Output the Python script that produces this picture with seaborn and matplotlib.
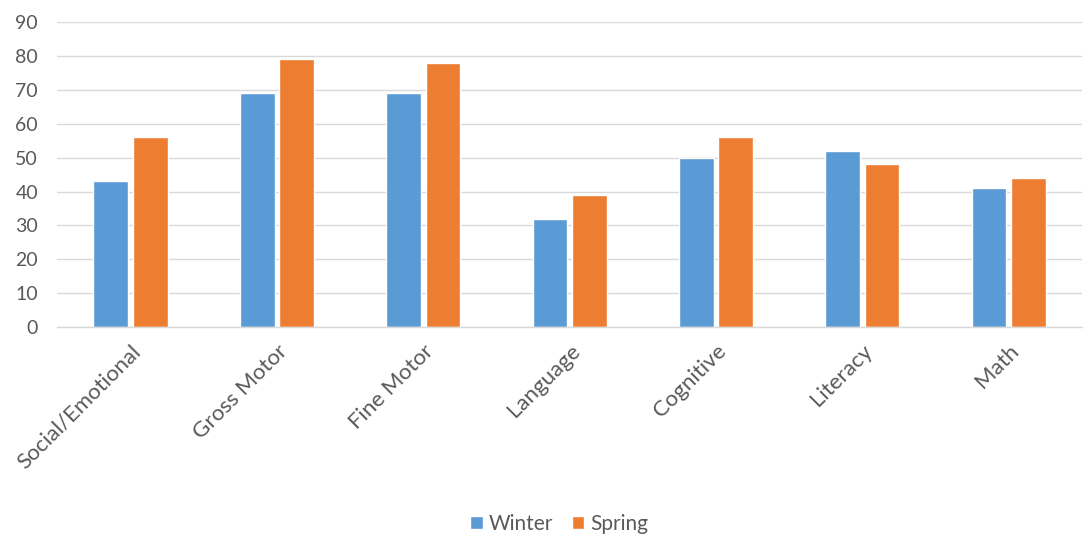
import matplotlib
matplotlib.use("Agg")
import matplotlib.pyplot as plt
import seaborn as sns
import pandas as pd

categories = ["Social/Emotional", "Gross Motor", "Fine Motor", "Language", "Cognitive", "Literacy", "Math"]
winter = [43, 69, 69, 32, 50, 52, 41]
spring = [56, 79, 78, 39, 56, 48, 44]
series_names = ["Winter", "Spring"]
yticks = list(range(0, 91, 10))

df = pd.DataFrame({
    "category": categories * 2,
    "value": winter + spring,
    "season": [series_names[0]] * len(categories) + [series_names[1]] * len(categories),
})

sns.set_theme(style="white")
plt.rcParams['font.family'] = ['Lato', 'DejaVu Sans']

fig = plt.figure(figsize=(10.84, 5.38), dpi=100)
ax = fig.add_axes([0.053, 0.392, 0.945, 0.567])

palette = {"Winter": "#5B9BD5", "Spring": "#ED7D31"}
sns.barplot(data=df, x="category", y="value", hue="season", palette=palette,
            width=0.54, gap=0.12, ax=ax, legend=True, saturation=1)

ax.set_ylim(0, 90)
ax.set_xlim(-0.5, len(categories) - 0.5)
ax.set_yticks(yticks)
ax.set_yticklabels([str(t) for t in yticks], color="#595959", fontsize=14)
ax.set_xticks(range(len(categories)))
ax.set_xticklabels(categories, rotation=45, ha="right", rotation_mode="anchor",
                   color="#595959", fontsize=16)
ax.tick_params(axis="y", length=0, pad=14)
ax.tick_params(axis="x", length=0, pad=10)
ax.yaxis.grid(True, color="#D9D9D9", linewidth=1)
ax.set_axisbelow(True)
for s in ["top", "right", "left"]:
    ax.spines[s].set_visible(False)
ax.spines["bottom"].set_color("#D9D9D9")
ax.spines["bottom"].set_linewidth(1)
ax.set_xlabel("")
ax.set_ylabel("")

handles, labels = ax.get_legend_handles_labels()
ax.legend_.remove()
fig.legend(handles, labels, loc="center", bbox_to_anchor=(0.516, 0.026), ncol=2,
           frameon=False, fontsize=15, handlelength=0.6, handleheight=0.6,
           handletextpad=0.3, columnspacing=0.9, labelcolor="#595959")

fig.savefig("out.png", dpi=100)
